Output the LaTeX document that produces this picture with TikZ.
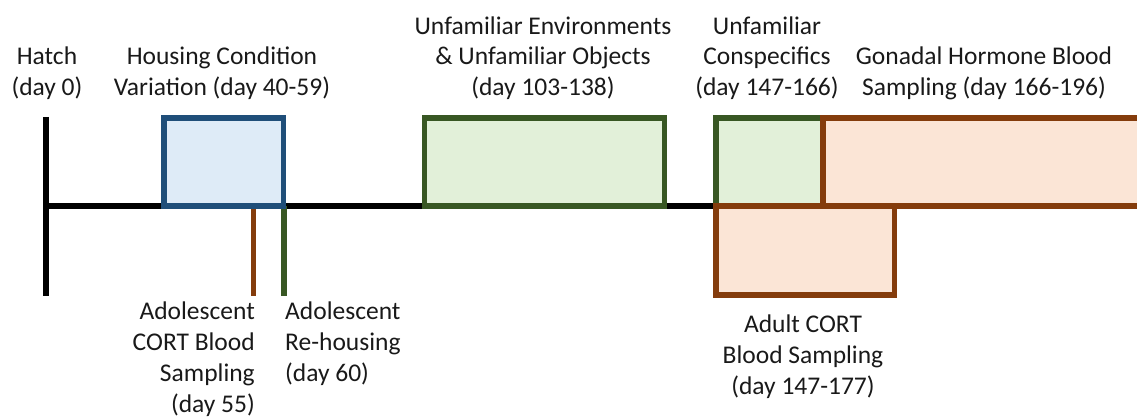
\documentclass[tikz,border=0pt]{standalone}
\usepackage{fontspec}
\setmainfont{Carlito}
\usepackage{xcolor}
\usepackage{tikz}
\usetikzlibrary{positioning}

\definecolor{hsblue}{HTML}{1F4E79}
\definecolor{hsbluefill}{HTML}{DEEBF7}
\definecolor{nvgreen}{HTML}{385723}
\definecolor{nvgreenfill}{HTML}{E2F0D9}
\definecolor{cortbrown}{HTML}{843C0C}
\definecolor{cortfill}{HTML}{FBE5D6}

\begin{document}
\begin{tikzpicture}[x=1pt, y=-1pt,
        phase/.style={draw, line width=5.5pt, outer sep=0pt, inner sep=0pt, anchor=north west},
        tl/.style={line width=5.5pt},
        lab/.style={font=\fontsize{25.5}{31}\selectfont, text=black!90, inner sep=0pt}
    ]
    \clip (0,0) rectangle (1137,417);
    % timeline
    \coordinate (hatchtop) at (46,117);
    \coordinate (hatchbot) at (46,296);
    \coordinate (t55) at (253.7,296);
    \coordinate (t60) at (283.8,296);
    \draw[tl] (hatchtop) -- (hatchbot);
    \node[phase, draw=hsblue, fill=hsbluefill, minimum width=119.5pt, minimum height=88pt] (housing) at (164,118) {};
    \draw[tl] (hatchtop |- housing.south) -- (716,206);
    \draw[tl, cortbrown] (t55 |- housing.south) -- (t55);
    \draw[tl, nvgreen] (t60 |- housing.south) -- (t60);
    \node[phase, draw=hsblue, fill=hsbluefill, minimum width=119.5pt, minimum height=88pt] at (164,118) {};
    % test phases
    \node[phase, draw=nvgreen, fill=nvgreenfill, minimum width=240pt, minimum height=88pt] (envobj) at (424.5,118) {};
    \node[phase, draw=nvgreen, fill=nvgreenfill, minimum width=107pt, minimum height=88pt] (consp) at (716,118) {};
    \node[phase, draw=cortbrown, fill=cortfill, minimum width=340pt, minimum height=88pt] (gonad) at (823,118) {};
    \node[phase, draw=cortbrown, fill=cortfill, minimum width=178.5pt, minimum height=89pt] (adult) at (716,206) {};
    % labels (anchor base = last line)
    \node[lab, align=center, anchor=base] (hatch) at (47,96) {Hatch\\(day 0)};
    \node[lab, align=center, anchor=base] (hslab) at (222,96) {Housing Condition\\Variation (day 40-59)};
    \node[lab, align=center, anchor=base] (envlab) at (543,96) {Unfamiliar Environments\\\& Unfamiliar Objects\\(day 103-138)};
    \node[lab, align=center, anchor=base] (consplab) at (767,96) {Unfamiliar\\Conspecifics\\(day 147-166)};
    \node[lab, align=center, anchor=base] (gonadlab) at (984,96) {Gonadal Hormone Blood\\Sampling (day 166-196)};
    \node[lab, align=right, anchor=base east] (cort55) at (255,412) {Adolescent\\CORT Blood\\Sampling\\(day 55)};
    \node[lab, align=left, anchor=base west] (rehouse) at (285,381) {Adolescent\\Re-housing\\(day 60)};
    \node[lab, align=center, anchor=base] (adultlab) at (803,394) {Adult CORT\\Blood Sampling\\(day 147-177)};
\end{tikzpicture}
\end{document}
